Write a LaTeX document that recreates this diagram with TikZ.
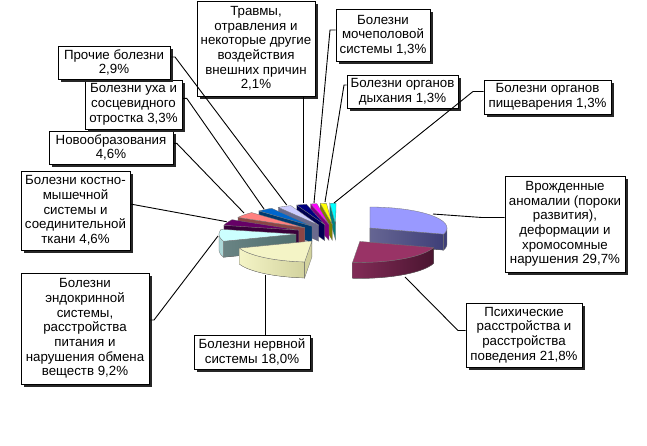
\documentclass[tikz,border=0pt]{standalone}
\usepackage{fontspec}
\setmainfont{Liberation Sans}
\usetikzlibrary{shadows}
\definecolor{cA}{HTML}{9999FF}\definecolor{cAs}{HTML}{3F3F78}
\definecolor{cB}{HTML}{993366}\definecolor{cBs}{HTML}{4A1530}
\definecolor{cC}{HTML}{F4F4C6}\definecolor{cCs}{HTML}{D2D29E}
\definecolor{cD}{HTML}{CCFFFF}\definecolor{cDs}{HTML}{4F6E6E}
\definecolor{cE}{HTML}{660066}\definecolor{cEs}{HTML}{3A003A}
\definecolor{cF}{HTML}{FF8080}\definecolor{cFs}{HTML}{8B4545}
\definecolor{cG}{HTML}{0066CC}\definecolor{cGs}{HTML}{003A70}
\definecolor{cH}{HTML}{CCCCFF}\definecolor{cHs}{HTML}{6A6A8E}
\definecolor{cI}{HTML}{000080}\definecolor{cIs}{HTML}{000050}
\definecolor{cJ}{HTML}{FF00FF}\definecolor{cJs}{HTML}{800080}
\definecolor{cK}{HTML}{FFFF00}\definecolor{cKs}{HTML}{7F7F00}
\definecolor{cL}{HTML}{00FFFF}\definecolor{cLs}{HTML}{007F7F}
\newcommand\lbfont{\fontsize{13.3pt}{14.7pt}\selectfont}
\def\pcx{337}\def\pcy{233.6}\def\prx{77}\def\pry{21}\def\pex{41}\def\pey{9.4}\def\pd{16}
\newcommand\setc[2]{\pgfmathsetmacro\ma{(#1+#2)/2}\pgfmathsetmacro\ccx{\pcx+\pex*cos(\ma)}\pgfmathsetmacro\ccy{\pcy-\pey*sin(\ma)}}
\newcommand\radface[2]{\filldraw[#2, edge] (\ccx,\ccy) -- ({\ccx+\prx*cos(#1)},{\ccy-\pry*sin(#1)}) -- ++(0,\pd) -- (\ccx,{\ccy+\pd}) -- cycle;}
\newcommand\outface[3]{\filldraw[#3, edge] plot[domain=#1:#2,samples=30] ({\ccx+\prx*cos(\x)},{\ccy-\pry*sin(\x)}) -- plot[domain=#2:#1,samples=30] ({\ccx+\prx*cos(\x)},{\ccy-\pry*sin(\x)+\pd}) -- cycle;}
\newcommand\topface[3]{\filldraw[fill=#3, edge] (\ccx,\ccy) -- plot[domain=#1:#2,samples=40] ({\ccx+\prx*cos(\x)},{\ccy-\pry*sin(\x)}) -- cycle;}
\begin{document}
\begin{tikzpicture}[x=1pt,y=-1pt,
  edge/.style={draw=black!55, line width=0.3pt},
  lead/.style={draw=black, line width=0.9pt},
  lbl/.style={draw=black, line width=0.8pt, fill=white, align=center, inner sep=1pt, font=\lbfont,
    drop shadow={shadow xshift=3pt, shadow yshift=-3pt, opacity=1, fill=black!85}}]
\useasboundingbox (0,0) rectangle (647,445);
\fill[white] (0,0) rectangle (647,445);
% ---- pie slices, back to front ----
\setc{-265.68}{-270.36}\radface{-265.68}{fill=cLs}\topface{-265.68}{-270.36}{cL}
\setc{-261.0}{-265.68}\radface{-261.0}{fill=cKs}\topface{-261.0}{-265.68}{cK}
\setc{-256.32}{-261.0}\radface{-256.32}{fill=cJs}\topface{-256.32}{-261.0}{cJ}
\setc{-248.76}{-256.32}\radface{-248.76}{fill=cIs}\topface{-248.76}{-256.32}{cI}
\setc{-238.32}{-248.76}\radface{-238.32}{fill=cHs}\topface{-238.32}{-248.76}{cH}
\setc{-226.44}{-238.32}\radface{-226.44}{fill=cGs}\topface{-226.44}{-238.32}{cG}
\setc{-209.88}{-226.44}\radface{-209.88}{fill=cFs}\topface{-209.88}{-226.44}{cF}
\setc{-193.32}{-209.88}\radface{-193.32}{fill=cEs}\topface{-193.32}{-209.88}{cE}
\setc{90}{-16.92}\radface{-16.92}{left color=cAs!80!white,right color=cAs}\outface{0}{-16.92}{fill=cAs}\topface{90}{-16.92}{cA}
\setc{-160.2}{-193.32}\radface{-160.2}{left color=cDs!85!white,right color=cDs}\outface{-160.2}{-180}{fill=cD!85!black}\topface{-160.2}{-193.32}{cD}
\setc{-95.4}{-160.2}\radface{-95.4}{fill=cCs}\outface{-95.4}{-160.2}{left color=cC,right color=cCs}\topface{-95.4}{-160.2}{cC}
\setc{-16.92}{-95.4}\outface{-16.92}{-95.4}{left color=cB!85!black,right color=cBs}\topface{-16.92}{-95.4}{cB}
% ---- labels ----
\node[lbl, minimum width=118pt, minimum height=95pt] (trav) at (256,48.5) {Травмы,\\отравления и\\некоторые другие\\воздействия\\внешних причин\\2,1\%};
\node[lbl, minimum width=94pt, minimum height=52pt] (moch) at (383,35) {Болезни\\мочеполовой\\системы 1,3\%};
\node[lbl, minimum width=111pt, minimum height=33pt] (dyh) at (402.5,91.5) {Болезни органов\\дыхания 1,3\%};
\node[lbl, minimum width=127pt, minimum height=34pt] (pish) at (547.5,97) {Болезни органов\\пищеварения 1,3\%};
\node[lbl, minimum width=120pt, minimum height=96pt] (vrozh) at (565,224) {Врожденные\\аномалии (пороки\\развития),\\деформации и\\хромосомные\\нарушения 29,7\%};
\node[lbl, minimum width=116pt, minimum height=64pt] (psih) at (524,335) {Психические\\расстройства и\\расстройства\\поведения 21,8\%};
\node[lbl, minimum width=116pt, minimum height=34pt] (nerv) at (252,352) {Болезни нервной\\системы 18,0\%};
\node[lbl, minimum width=128pt, minimum height=111pt] (endo) at (85,328.5) {Болезни\\эндокринной\\системы,\\расстройства\\питания и\\нарушения обмена\\веществ 9,2\%};
\node[lbl, minimum width=109pt, minimum height=79pt] (kost) at (75.5,210.5) {Болезни костно-\\мышечной\\системы и\\соединительной\\ткани 4,6\%};
\node[lbl, minimum width=124pt, minimum height=33pt] (novo) at (111,147.5) {Новообразования\\4,6\%};
\node[lbl, minimum width=97pt, minimum height=49pt] (uho) at (133.5,104.5) {Болезни уха и\\сосцевидного\\отростка 3,3\%};
\node[lbl, minimum width=112pt, minimum height=33pt] (proch) at (114,62.5) {Прочие болезни\\2,9\%};
% ---- leader coordinates ----
\coordinate (pe1) at (433,214);   \coordinate (pb1) at (482,217.5);
\coordinate (pe2) at (405,277);   \coordinate (pb2) at (458,330.5);
\coordinate (pe3) at (265.7,275);
\coordinate (pe4) at (218,236);   \coordinate (pb4) at (154,320);
\coordinate (pe5) at (226.7,221.7); \coordinate (pb5) at (131,204);
\coordinate (pe6) at (244,213);   \coordinate (pb6) at (176.7,143.3);
\coordinate (pe7) at (264,209);   \coordinate (pb7) at (186.7,98.3);
\coordinate (pe8) at (286.7,205); \coordinate (pb8) at (175,57);
\coordinate (pe9) at (303,203);
\coordinate (pe10) at (314,203);  \coordinate (pb10) at (330,30);
\coordinate (pe11) at (325,202);  \coordinate (pb11) at (344,85);
\coordinate (pe12) at (334,203);  \coordinate (pb12) at (473,91.5);
% ---- leaders ----
\draw[lead] (vrozh.west |- pb1) -- (pb1) -- (pe1);
\draw[lead] (psih.west |- pb2) -- (pb2) -- (pe2);
\draw[lead] (pe3 |- nerv.north) -- (pe3);
\draw[lead] (endo.east |- pb4) -- (pb4) -- (pe4);
\draw[lead] (kost.east |- pb5) -- (pe5);
\draw[lead] (novo.east |- pb6) -- (pb6) -- (pe6);
\draw[lead] (uho.east |- pb7) -- (pb7) -- (pe7);
\draw[lead] (proch.east |- pb8) -- (pb8) -- (pe8);
\draw[lead] (pe9 |- trav.south) -- (pe9);
\draw[lead] (moch.west |- pb10) -- (pb10) -- (pe10);
\draw[lead] (dyh.west |- pb11) -- (pb11) -- (pe11);
\draw[lead] (pish.west |- pb12) -- (pb12) -- (pe12);
\end{tikzpicture}
\end{document}
